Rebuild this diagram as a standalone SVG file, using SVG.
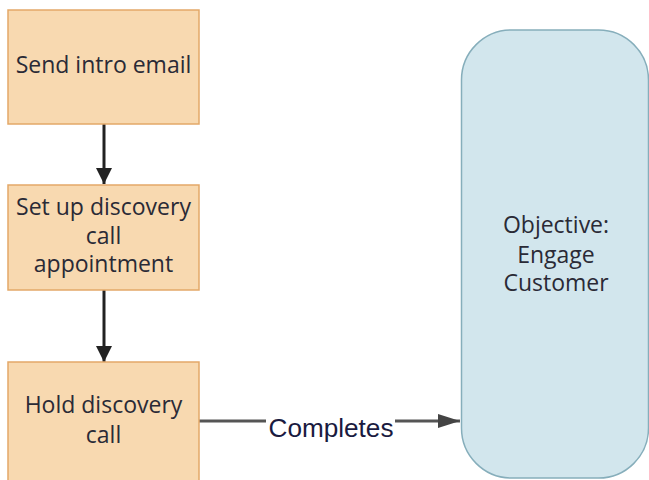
<svg xmlns="http://www.w3.org/2000/svg" width="649" height="480" viewBox="0 0 649 480">
<defs>
<style>
.task{fill:#f8d9b0;stroke:#e3a868;stroke-width:1.5}
.obj{fill:#d2e6ed;stroke:#86aebb;stroke-width:1.5}
.t{font-family:"Open Sans","Noto Sans",sans-serif;font-size:23px;fill:#2a2a36;text-anchor:middle}
.lbl{font-family:"Liberation Sans",Arial,sans-serif;font-size:26px;fill:#1a1a40;text-anchor:middle}
.v{stroke:#222;stroke-width:3;fill:none}
.h{stroke:#555;stroke-width:3;fill:none}
</style>
<marker id="ah" viewBox="0 0 16 16" refX="16" refY="8" markerWidth="16" markerHeight="16" markerUnits="userSpaceOnUse" orient="auto">
<path d="M0,0 L16,8 L0,16 Z" fill="#222"/>
</marker>
<marker id="ah2" viewBox="0 0 22 14" refX="22" refY="7" markerWidth="22" markerHeight="14" markerUnits="userSpaceOnUse" orient="auto">
<path d="M0,0 L22,7 L0,14 Z" fill="#444"/>
</marker>
</defs>
<g id="connectors">
<line class="v" x1="104" y1="124" x2="104" y2="184" marker-end="url(#ah)"/>
<line class="v" x1="104" y1="290" x2="104" y2="362" marker-end="url(#ah)"/>
<line class="h" x1="199" y1="421" x2="460" y2="421" marker-end="url(#ah2)"/>
<rect x="266" y="410" width="129" height="24" fill="#fff"/>
<text class="lbl" x="331" y="437" textLength="125" lengthAdjust="spacingAndGlyphs">Completes</text>
</g>
<g id="n1">
<rect class="task" x="8" y="10" width="191" height="114"/>
<text class="t" x="103.5" y="73">Send intro email</text>
</g>
<g id="n2">
<rect class="task" x="8" y="185" width="191" height="105"/>
<text class="t" x="103.5" y="215">Set up discovery</text>
<text class="t" x="103.5" y="244">call</text>
<text class="t" x="103.5" y="272">appointment</text>
</g>
<g id="n3">
<rect class="task" x="8" y="362" width="191" height="130"/>
<text class="t" x="103.5" y="413">Hold discovery</text>
<text class="t" x="103.5" y="443">call</text>
</g>
<g id="objective">
<rect class="obj" x="461.5" y="30" width="187" height="448" rx="50" ry="50"/>
<text class="t" x="556" y="233">Objective:</text>
<text class="t" x="556" y="263">Engage</text>
<text class="t" x="556" y="291">Customer</text>
</g>
</svg>
